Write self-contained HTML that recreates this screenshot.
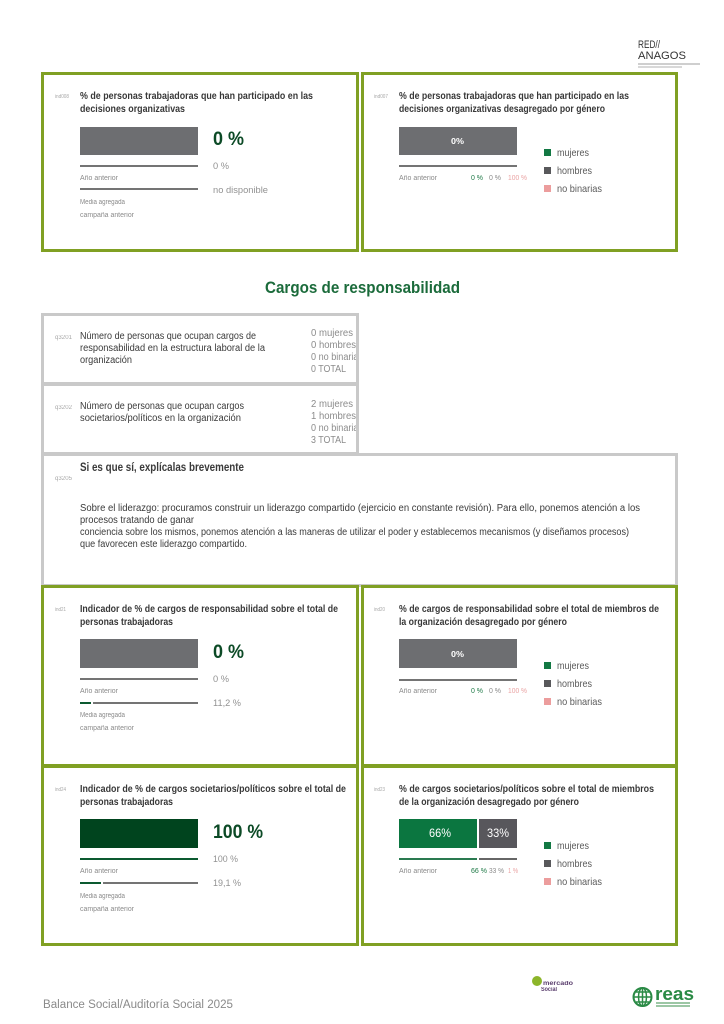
<!DOCTYPE html>
<html><head><meta charset="utf-8">
<style>
html,body{margin:0;padding:0;background:#fff;}
#p{position:relative;width:724px;height:1024px;overflow:hidden;background:#fff;font-family:"Liberation Sans",sans-serif;}
.b{position:absolute;box-sizing:border-box;}
.g{border:3px solid #80a023;}
.gr{border:3px solid #c9c9c9;}
.t{position:absolute;white-space:nowrap;line-height:1;transform-origin:0 0;margin-top:2px;}
.ti{font-weight:bold;color:#383838;font-size:10.5px;}
.id{font-size:5.5px;color:#a8a8a8;}
.sm{font-size:7px;color:#8a8a8a;}
.v{font-size:9.5px;color:#929292;}
.big{font-weight:bold;color:#0c4a26;font-size:19px;}
.r{position:absolute;}
.lg{font-size:10.5px;color:#5a5a5a;}
.sq{position:absolute;width:7px;height:7px;}
.q{font-size:10px;color:#3a3a3a;}
.qv{font-size:10px;color:#8c8c8c;}
</style></head><body><div id="p">

<!-- RED ANAGOS logo -->
<div class="t f" style="left:638px;top:38px;font-size:11px;color:#333;--w:22px;">RED//</div>
<div class="t f" style="left:638px;top:49px;font-size:11px;color:#333;--w:48px;">ANAGOS</div>
<div class="r" style="left:638px;top:63px;width:62px;height:2px;background:#cfcfcf"></div>
<div class="r" style="left:638px;top:66px;width:44px;height:2px;background:#d8d8d8"></div>

<!-- Box ind008 -->
<div class="b g" style="left:41px;top:72px;width:318px;height:180px"></div>
<div class="t id f" style="left:55px;top:93px;--w:14px">ind008</div>
<div class="t ti f" style="left:80px;top:89px;--w:233px">% de personas trabajadoras que han participado en las</div>
<div class="t ti f" style="left:80px;top:102px;--w:105px">decisiones organizativas</div>
<div class="r" style="left:80px;top:127px;width:118px;height:28px;background:#6d6e71"></div>
<div class="t big f" style="left:213px;top:128px;--w:31px">0 %</div>
<div class="r" style="left:80px;top:165px;width:118px;height:2px;background:#747474"></div>
<div class="t v f" style="left:213px;top:160px;--w:16px">0 %</div>
<div class="t sm f" style="left:80px;top:173px;--w:38px">Año anterior</div>
<div class="r" style="left:80px;top:188px;width:118px;height:2px;background:#747474"></div>
<div class="t v f" style="left:213px;top:184px;--w:55px">no disponible</div>
<div class="t sm f" style="left:80px;top:197px;--w:45px">Media agregada</div>
<div class="t sm f" style="left:80px;top:210px;--w:54px">campaña anterior</div>

<!-- Box ind007 -->
<div class="b g" style="left:361px;top:72px;width:317px;height:180px"></div>
<div class="t id f" style="left:374px;top:93px;--w:14px">ind007</div>
<div class="t ti f" style="left:399px;top:89px;--w:230px">% de personas trabajadoras que han participado en las</div>
<div class="t ti f" style="left:399px;top:102px;--w:206px">decisiones organizativas desagregado por género</div>
<div class="r" style="left:399px;top:127px;width:118px;height:28px;background:#6d6e71"></div>
<div class="t f" style="left:451px;top:136px;font-size:8px;font-weight:bold;color:#fff;--w:13px">0%</div>
<div class="r" style="left:399px;top:165px;width:118px;height:2px;background:#747474"></div>
<div class="t sm f" style="left:399px;top:173px;--w:38px">Año anterior</div>
<div class="t sm f" style="left:471px;top:173px;color:#1f7a47;--w:12px">0 %</div>
<div class="t sm f" style="left:489px;top:173px;--w:12px">0 %</div>
<div class="t sm f" style="left:508px;top:173px;color:#eaa3a3;--w:19px">100 %</div>
<div class="sq" style="left:544px;top:149px;background:#127843"></div>
<div class="t lg f" style="left:557px;top:146px;--w:32px">mujeres</div>
<div class="sq" style="left:544px;top:167px;background:#58585b"></div>
<div class="t lg f" style="left:557px;top:164px;--w:35px">hombres</div>
<div class="sq" style="left:544px;top:185px;background:#ec9d9d"></div>
<div class="t lg f" style="left:557px;top:182px;--w:45px">no binarias</div>

<!-- Section title -->
<div class="t f" style="left:265px;top:278px;font-size:16.5px;font-weight:bold;color:#1b6b3b;--w:195px">Cargos de responsabilidad</div>

<!-- q3201 -->
<div class="b gr" style="left:41px;top:313px;width:318px;height:72px"></div>
<div class="t id f" style="left:55px;top:333px;font-size:6px;--w:17px">q3201</div>
<div class="t q f" style="left:80px;top:330px;--w:176px">Número de personas que ocupan cargos de</div>
<div class="t q f" style="left:80px;top:342px;--w:185px">responsabilidad en la estructura laboral de la</div>
<div class="t q f" style="left:80px;top:354px;--w:52px">organización</div>
<div class="r" style="left:311px;top:326px;width:45px;height:52px;overflow:hidden">
<div class="t qv f" style="left:0;top:1px;--w:42px">0 mujeres</div>
<div class="t qv f" style="left:0;top:13px;--w:45px">0 hombres</div>
<div class="t qv f" style="left:0;top:25px;--w:52px">0 no binarias</div>
<div class="t qv f" style="left:0;top:37px;--w:35px">0 TOTAL</div>
</div>

<!-- q3202 -->
<div class="b gr" style="left:41px;top:383px;width:318px;height:72px"></div>
<div class="t id f" style="left:55px;top:403px;font-size:6px;--w:17px">q3202</div>
<div class="t q f" style="left:80px;top:400px;--w:164px">Número de personas que ocupan cargos</div>
<div class="t q f" style="left:80px;top:412px;--w:161px">societarios/políticos en la organización</div>
<div class="r" style="left:311px;top:396px;width:45px;height:52px;overflow:hidden">
<div class="t qv f" style="left:0;top:2px;--w:42px">2 mujeres</div>
<div class="t qv f" style="left:0;top:14px;--w:45px">1 hombres</div>
<div class="t qv f" style="left:0;top:26px;--w:52px">0 no binarias</div>
<div class="t qv f" style="left:0;top:38px;--w:35px">3 TOTAL</div>
</div>

<!-- q3205 -->
<div class="b gr" style="left:41px;top:453px;width:637px;height:134px"></div>
<div class="t id f" style="left:55px;top:474px;font-size:6px;--w:17px">q3205</div>
<div class="t f" style="left:80px;top:461px;font-size:11.5px;font-weight:bold;color:#3a3a3a;--w:164px">Si es que sí, explícalas brevemente</div>
<div class="t q f" style="left:80px;top:502px;--w:560px">Sobre el liderazgo: procuramos construir un liderazgo compartido (ejercicio en constante revisión). Para ello, ponemos atención a los</div>
<div class="t q f" style="left:80px;top:514px;--w:114px">procesos tratando de ganar</div>
<div class="t q f" style="left:80px;top:526px;--w:549px">conciencia sobre los mismos, ponemos atención a las maneras de utilizar el poder y establecemos mecanismos (y diseñamos procesos)</div>
<div class="t q f" style="left:80px;top:538px;--w:167px">que favorecen este liderazgo compartido.</div>

<!-- ind21 -->
<div class="b g" style="left:41px;top:585px;width:318px;height:182px"></div>
<div class="t id f" style="left:55px;top:606px;--w:11px">ind21</div>
<div class="t ti f" style="left:80px;top:602px;--w:258px">Indicador de % de cargos de responsabilidad sobre el total de</div>
<div class="t ti f" style="left:80px;top:615px;--w:93px">personas trabajadoras</div>
<div class="r" style="left:80px;top:639px;width:118px;height:29px;background:#6d6e71"></div>
<div class="t big f" style="left:213px;top:641px;--w:31px">0 %</div>
<div class="r" style="left:80px;top:678px;width:118px;height:2px;background:#747474"></div>
<div class="t v f" style="left:213px;top:673px;--w:16px">0 %</div>
<div class="t sm f" style="left:80px;top:686px;--w:38px">Año anterior</div>
<div class="r" style="left:80px;top:702px;width:11px;height:2px;background:#0c5a30"></div>
<div class="r" style="left:93px;top:702px;width:105px;height:2px;background:#747474"></div>
<div class="t v f" style="left:213px;top:697px;--w:28px">11,2 %</div>
<div class="t sm f" style="left:80px;top:710px;--w:45px">Media agregada</div>
<div class="t sm f" style="left:80px;top:723px;--w:54px">campaña anterior</div>

<!-- ind20 -->
<div class="b g" style="left:361px;top:585px;width:317px;height:182px"></div>
<div class="t id f" style="left:374px;top:606px;--w:11px">ind20</div>
<div class="t ti f" style="left:399px;top:602px;--w:260px">% de cargos de responsabilidad sobre el total de miembros de</div>
<div class="t ti f" style="left:399px;top:615px;--w:168px">la organización desagregado por género</div>
<div class="r" style="left:399px;top:639px;width:118px;height:29px;background:#6d6e71"></div>
<div class="t f" style="left:451px;top:649px;font-size:8px;font-weight:bold;color:#fff;--w:13px">0%</div>
<div class="r" style="left:399px;top:679px;width:118px;height:2px;background:#747474"></div>
<div class="t sm f" style="left:399px;top:686px;--w:38px">Año anterior</div>
<div class="t sm f" style="left:471px;top:686px;color:#1f7a47;--w:12px">0 %</div>
<div class="t sm f" style="left:489px;top:686px;--w:12px">0 %</div>
<div class="t sm f" style="left:508px;top:686px;color:#eaa3a3;--w:19px">100 %</div>
<div class="sq" style="left:544px;top:662px;background:#127843"></div>
<div class="t lg f" style="left:557px;top:659px;--w:32px">mujeres</div>
<div class="sq" style="left:544px;top:680px;background:#58585b"></div>
<div class="t lg f" style="left:557px;top:677px;--w:35px">hombres</div>
<div class="sq" style="left:544px;top:698px;background:#ec9d9d"></div>
<div class="t lg f" style="left:557px;top:695px;--w:45px">no binarias</div>

<!-- ind24 -->
<div class="b g" style="left:41px;top:765px;width:318px;height:181px"></div>
<div class="t id f" style="left:55px;top:786px;--w:11px">ind24</div>
<div class="t ti f" style="left:80px;top:782px;--w:266px">Indicador de % de cargos societarios/políticos sobre el total de</div>
<div class="t ti f" style="left:80px;top:795px;--w:93px">personas trabajadoras</div>
<div class="r" style="left:80px;top:819px;width:118px;height:29px;background:#00441e"></div>
<div class="t big f" style="left:213px;top:821px;--w:50px">100 %</div>
<div class="r" style="left:80px;top:858px;width:118px;height:2px;background:#0c5a30"></div>
<div class="t v f" style="left:213px;top:853px;--w:25px">100 %</div>
<div class="t sm f" style="left:80px;top:866px;--w:38px">Año anterior</div>
<div class="r" style="left:80px;top:882px;width:21px;height:2px;background:#0c5a30"></div>
<div class="r" style="left:103px;top:882px;width:95px;height:2px;background:#747474"></div>
<div class="t v f" style="left:213px;top:877px;--w:28px">19,1 %</div>
<div class="t sm f" style="left:80px;top:891px;--w:45px">Media agregada</div>
<div class="t sm f" style="left:80px;top:904px;--w:54px">campaña anterior</div>

<!-- ind23 -->
<div class="b g" style="left:361px;top:765px;width:317px;height:181px"></div>
<div class="t id f" style="left:374px;top:786px;--w:11px">ind23</div>
<div class="t ti f" style="left:399px;top:782px;--w:255px">% de cargos societarios/políticos sobre el total de miembros</div>
<div class="t ti f" style="left:399px;top:795px;--w:180px">de la organización desagregado por género</div>
<div class="r" style="left:399px;top:819px;width:78px;height:29px;background:#0b7640"></div>
<div class="r" style="left:479px;top:819px;width:38px;height:29px;background:#58575c"></div>
<div class="t f" style="left:429px;top:825px;font-size:12px;color:#fff;--w:22px">66%</div>
<div class="t f" style="left:487px;top:825px;font-size:12px;color:#fff;--w:22px">33%</div>
<div class="r" style="left:399px;top:858px;width:78px;height:2px;background:#2a7a50"></div>
<div class="r" style="left:479px;top:858px;width:38px;height:2px;background:#666"></div>
<div class="t sm f" style="left:399px;top:866px;--w:38px">Año anterior</div>
<div class="t sm f" style="left:471px;top:866px;color:#1f7a47;--w:16px">66 %</div>
<div class="t sm f" style="left:489px;top:866px;--w:15px">33 %</div>
<div class="t sm f" style="left:508px;top:866px;color:#eaa3a3;--w:10px">1 %</div>
<div class="sq" style="left:544px;top:842px;background:#127843"></div>
<div class="t lg f" style="left:557px;top:839px;--w:32px">mujeres</div>
<div class="sq" style="left:544px;top:860px;background:#58585b"></div>
<div class="t lg f" style="left:557px;top:857px;--w:35px">hombres</div>
<div class="sq" style="left:544px;top:878px;background:#ec9d9d"></div>
<div class="t lg f" style="left:557px;top:875px;--w:45px">no binarias</div>

<!-- Footer -->
<div class="t f" style="left:43px;top:998px;font-size:11.5px;color:#8a8a8a;--w:190px">Balance Social/Auditoría Social 2025</div>
<div class="r" style="left:532px;top:976px;width:10px;height:10px;border-radius:50%;background:#8cb52a"></div>
<div class="t f" style="left:543px;top:979px;font-size:6px;font-weight:bold;color:#5b3f6e;--w:30px">mercado</div>
<div class="t f" style="left:541px;top:985px;font-size:6px;font-weight:bold;color:#5b3f6e;--w:16px">Social</div>
<svg class="r" style="left:632px;top:986px" width="21" height="22" viewBox="0 0 21 22">
<circle cx="10.5" cy="11" r="9" fill="none" stroke="#2a8a45" stroke-width="2"/>
<path d="M10.5 2V20M2 11H19M4 6H17M4 16H17" stroke="#2a8a45" stroke-width="1.5" fill="none"/>
<ellipse cx="10.5" cy="11" rx="4" ry="9" fill="none" stroke="#2a8a45" stroke-width="1.5"/>
</svg>
<div class="t f" style="left:655px;top:983px;font-size:18px;font-weight:bold;color:#2a8a45;--w:39px">reas</div>
<div class="r" style="left:656px;top:1002px;width:34px;height:1.5px;background:#9cc7a5"></div>
<div class="r" style="left:656px;top:1005px;width:34px;height:1.5px;background:#9cc7a5"></div>

</div>
<script>
document.querySelectorAll('.f').forEach(function(e){
  var w=parseFloat(e.style.getPropertyValue('--w'));
  var sw=e.getBoundingClientRect().width;
  if(w&&sw){e.style.transform='scaleX('+(w/sw)+')';}
});
</script>
</body></html>
